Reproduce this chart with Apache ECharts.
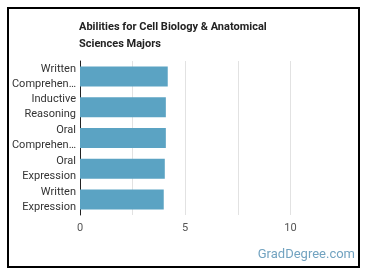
<!DOCTYPE html>
<html>
<head>
<meta charset="utf-8">
<script src="https://cdn.jsdelivr.net/npm/echarts@6/dist/echarts.min.js"></script>
<style>
html,body{margin:0;padding:0;background:#fff;}
#chart{width:370px;height:278px;}
</style>
</head>
<body>
<div id="chart"></div>
<script>
var categories = ['Written Comprehension', 'Inductive Reasoning', 'Oral Comprehension', 'Oral Expression', 'Written Expression'];
var values = [4.17, 4.08, 4.08, 4.03, 3.98];
var xTickLabels = [0, 5, 10];
var titleText = 'Abilities for Cell Biology & Anatomical\nSciences Majors';
var watermark = 'GradDegree.com';

var chart = echarts.init(document.getElementById('chart'), null, {renderer: 'canvas'});
chart.setOption({
  animation: false,
  title: {
    text: titleText,
    left: 79,
    top: 19,
    padding: 0,
    textStyle: {fontFamily: 'Roboto', fontSize: 11, fontWeight: 'bold', color: '#222', lineHeight: 17}
  },
  grid: {left: 80, right: 27, top: 61, bottom: 63, containLabel: false},
  xAxis: {
    type: 'value',
    min: 0,
    max: 12.5,
    interval: 2.5,
    axisLine: {show: false},
    axisTick: {show: false},
    splitLine: {show: true, lineStyle: {color: ['#e2e2e2','#e2e2e2','#e2e2e2','#e2e2e2','#e2e2e2','rgba(0,0,0,0)'], width: 1}},
    axisLabel: {
      fontFamily: 'Roboto', fontSize: 11, color: '#555', margin: 8,
      formatter: function (v) { return xTickLabels.indexOf(v) >= 0 ? String(v) : ''; }
    }
  },
  yAxis: {
    type: 'category',
    inverse: true,
    data: categories,
    axisLine: {show: true, lineStyle: {color: '#222', width: 1}},
    axisTick: {show: false},
    axisLabel: {
      fontFamily: 'Roboto', fontSize: 11, color: '#333', margin: 4, lineHeight: 15,
      width: 70, overflow: 'truncate', ellipsis: '…', align: 'right',
      formatter: function (v) { return v.split(' ').join('\n'); }
    }
  },
  series: [{
    type: 'bar',
    data: values,
    barWidth: 20,
    itemStyle: {color: '#5ba3c3'},
    z: 1
  }],
  graphic: [
    {type: 'rect', shape: {x: 8, y: 8, width: 351, height: 259}, style: {fill: 'none', stroke: '#000', lineWidth: 2}, silent: true},
    {type: 'text', right: 15, top: 248, style: {text: watermark, fontFamily: 'Roboto', fontSize: 13, fill: '#72a3c0'}}
  ]
});
</script>
</body>
</html>
